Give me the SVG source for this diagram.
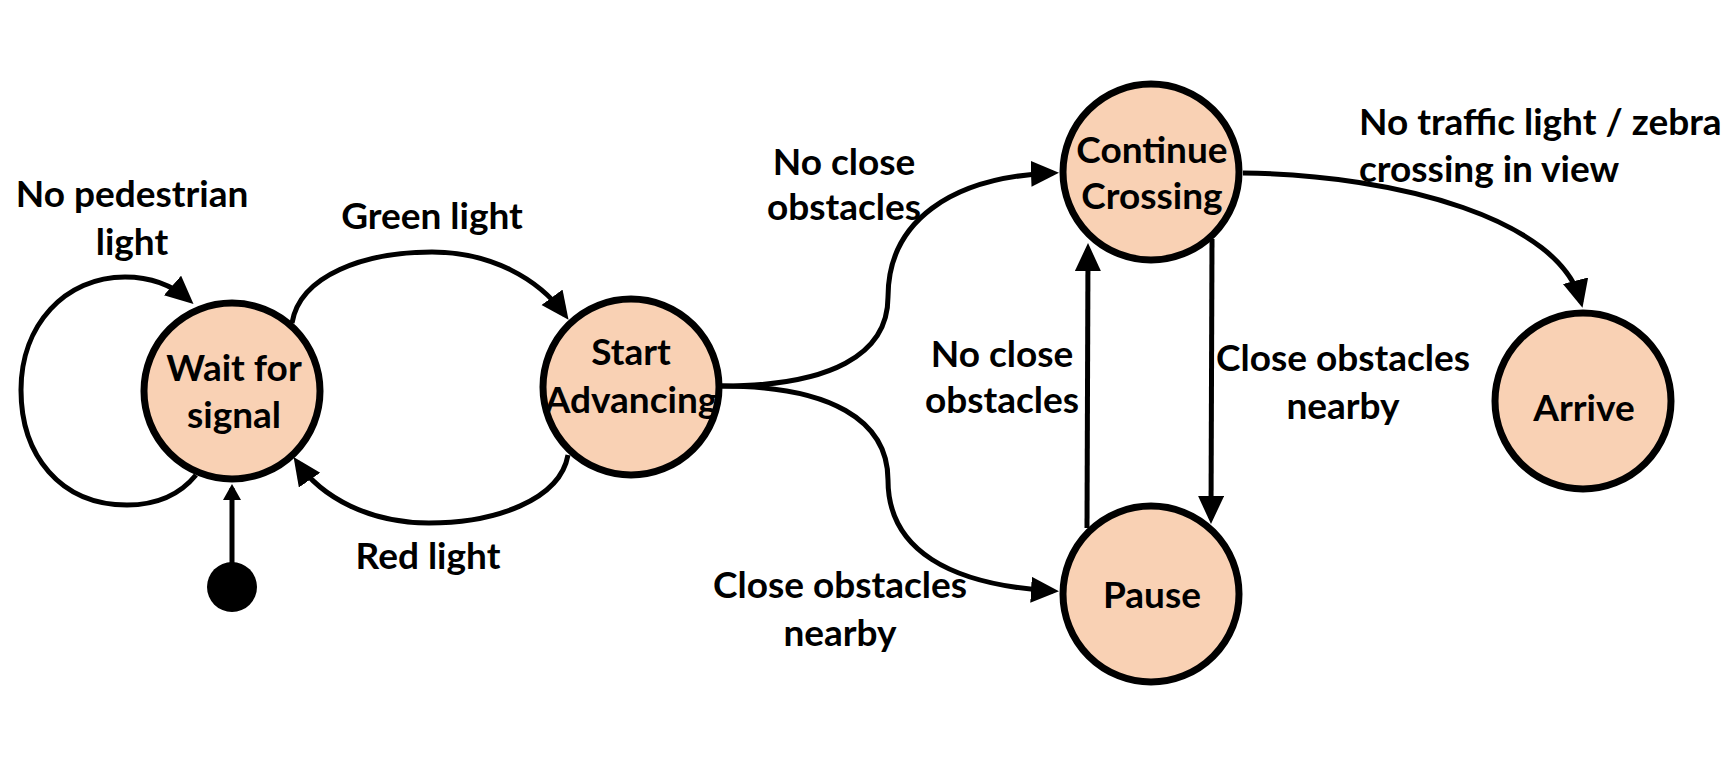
<svg xmlns="http://www.w3.org/2000/svg" width="1728" height="759" viewBox="0 0 1728 759">
<style>
.st{fill:#F9D1B4;stroke:#000;stroke-width:7}
.lb{font-family:Lato,"Liberation Sans",sans-serif;font-weight:bold;font-size:37px;fill:#000;text-anchor:middle}
.ed{fill:none;stroke:#000;stroke-width:5}
</style>
<defs>
<marker id="ah" markerUnits="userSpaceOnUse" markerWidth="30" markerHeight="28" refX="22" refY="13" orient="auto">
<path d="M0,0 L28,13 L0,26 z" fill="#000"/>
</marker>
<marker id="ahs" markerUnits="userSpaceOnUse" markerWidth="20" markerHeight="20" refX="12" refY="9" orient="auto">
<path d="M0,0 L16,9 L0,18 z" fill="#000"/>
</marker>
</defs>
<rect width="1728" height="759" fill="#fff"/>
<g id="connectors">
<path class="ed" d="M196,475 C178,497 152,505 127,505 C60,505 21,455 21,390 C21,325 65,277 125,277 C150,277 172,285 189,300" marker-end="url(#ah)"/>
<path class="ed" d="M292,323 C300,275 365,252 432,252 C490,252 538,278 565,315" marker-end="url(#ah)"/>
<path class="ed" d="M568,455 C560,500 495,523 429,523 C370,523 322,498 297,462" marker-end="url(#ah)"/>
<path class="ed" d="M232,563 L232,488" marker-end="url(#ahs)"/>
<path class="ed" d="M722,386 C830,386 888,355 888,297 C888,222 950,177 1053,173" marker-end="url(#ah)"/>
<path class="ed" d="M722,386 C830,386 888,420 888,480 C888,550 950,585 1053,591" marker-end="url(#ah)"/>
<path class="ed" d="M1087,528 L1088,249" marker-end="url(#ah)"/>
<path class="ed" d="M1212,239 L1211,518" marker-end="url(#ah)"/>
<path class="ed" d="M1243,173 C1400,175 1560,220 1581,302" marker-end="url(#ah)"/>
</g>
<g id="init"><circle cx="232" cy="587" r="25" fill="#000"/></g>
<g id="wait"><circle class="st" cx="232" cy="391" r="88"/><text class="lb" x="234" y="381">Wait for</text><text class="lb" x="234" y="428">signal</text></g>
<g id="start"><circle class="st" cx="631" cy="387" r="88"/><text class="lb" x="631" y="365">Start</text><text class="lb" x="631" y="413">Advancing</text></g>
<g id="continue"><circle class="st" cx="1151" cy="172" r="88"/><text class="lb" x="1152" y="163">Continue</text><text class="lb" x="1152" y="209">Crossing</text></g>
<g id="pause"><circle class="st" cx="1151" cy="594" r="88"/><text class="lb" x="1152" y="608">Pause</text></g>
<g id="arrive"><circle class="st" cx="1583" cy="401" r="88"/><text class="lb" x="1584" y="421">Arrive</text></g>
<g id="labels">
<text class="lb" x="132" y="207">No pedestrian</text><text class="lb" x="132" y="255">light</text>
<text class="lb" x="432" y="229">Green light</text>
<text class="lb" x="428" y="569">Red light</text>
<text class="lb" x="844" y="175">No close</text><text class="lb" x="844" y="220">obstacles</text>
<text class="lb" x="1002" y="367">No close</text><text class="lb" x="1002" y="413">obstacles</text>
<text class="lb" x="1343" y="371">Close obstacles</text><text class="lb" x="1343" y="419">nearby</text>
<text class="lb" x="840" y="598">Close obstacles</text><text class="lb" x="840" y="646">nearby</text>
<text class="lb" x="1359" y="135" style="text-anchor:start">No traffic light / zebra</text><text class="lb" x="1359" y="182" style="text-anchor:start">crossing in view</text>
</g>
</svg>
